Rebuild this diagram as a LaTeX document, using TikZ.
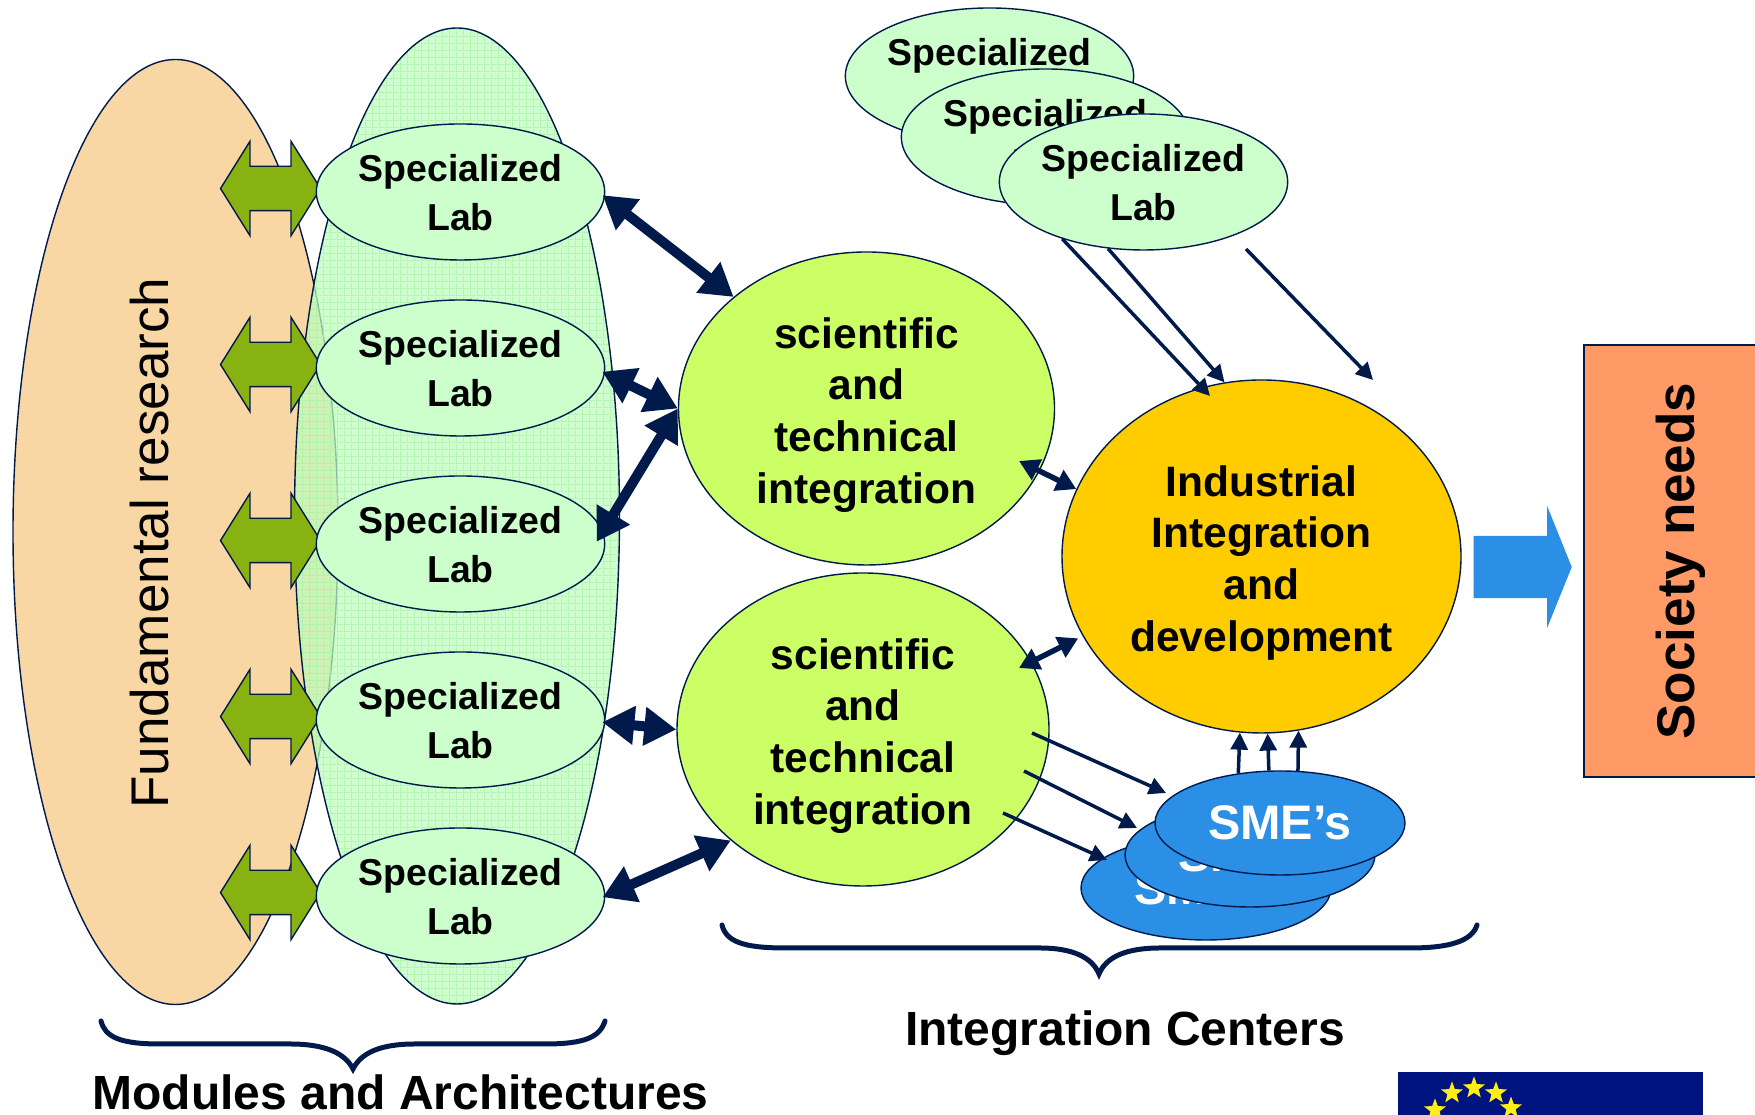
\documentclass[tikz,border=0pt]{standalone}
\usepackage{fontspec}
\setmainfont{Liberation Sans}
\usetikzlibrary{shapes.geometric,shapes.arrows,arrows.meta,patterns}
\definecolor{navyline}{RGB}{0,26,76}
\definecolor{outercol}{RGB}{248,215,165}
\definecolor{meshcol}{RGB}{165,240,165}
\definecolor{labcol}{RGB}{204,255,204}
\definecolor{scicol}{RGB}{204,255,102}
\definecolor{indcol}{RGB}{255,204,0}
\definecolor{smecol}{RGB}{42,143,229}
\definecolor{needcol}{RGB}{255,153,102}
\definecolor{swapcol}{RGB}{136,178,17}
\definecolor{flagcol}{RGB}{0,20,127}
\definecolor{starcol}{RGB}{255,238,20}
\pgfdeclarepatternformonly{finemesh}{\pgfpointorigin}{\pgfqpoint{2pt}{2pt}}{\pgfqpoint{2pt}{2pt}}{
	\pgfsetlinewidth{.35pt}
	\pgfpathmoveto{\pgfpointorigin}
	\pgfpathlineto{\pgfqpoint{2pt}{0pt}}
	\pgfpathmoveto{\pgfpointorigin}
	\pgfpathlineto{\pgfqpoint{0pt}{2pt}}
	\pgfusepath{stroke}
}
\newcommand{\labname}{\rule{0pt}{8pt}Specialized\\Lab}
\newcommand{\sciname}{\rule{0pt}{12.3pt}scientific\\and\\technical\\integration}
\tikzset{
	outline/.style={draw=navyline,line width=.4pt},
	labnode/.style={outline,ellipse,fill=labcol,minimum width=2.88cm,minimum height=1.36cm,inner sep=0pt,align=center,font=\fontsize{10.65}{13.9}\selectfont\bfseries},
	scinode/.style={outline,ellipse,fill=scicol,inner sep=0pt,align=center,font=\fontsize{12.1}{14.7}\selectfont\bfseries},
	smenode/.style={outline,ellipse,fill=smecol,minimum width=2.5cm,minimum height=1.04cm,inner sep=0pt,text=white,font=\fontsize{13.8}{16}\selectfont\bfseries},
	swaparrow/.style={outline,fill=swapcol,double arrow,minimum height=1cm,text height=.43cm,text depth=0pt,double arrow head extend=.25cm,double arrow tip angle=116,double arrow head indent=0pt,inner sep=0pt},
	stargold/.style={star,star points=5,star point ratio=2.4,fill=starcol,inner sep=0pt,minimum size=.23cm},
	heavylink/.style={navyline,line width=.1cm,shorten <=-.03cm,{Triangle[length=.32cm,width=.37cm]}-{Triangle[length=.32cm,width=.37cm]}},
	midlink/.style={navyline,line width=.055cm,{Triangle[length=.2cm,width=.22cm]}-{Triangle[length=.2cm,width=.22cm]}},
	thinlink/.style={navyline,line width=.035cm,-{Triangle[length=.17cm,width=.17cm]}},
	bracepath/.style={navyline,line width=.05cm,line cap=round},
	headtext/.style={font=\fontsize{13.65}{16}\selectfont\bfseries,inner sep=0pt}
}
\begin{document}
\begin{tikzpicture}
	\useasboundingbox (0,0) rectangle (17.55,11.15);
	\node[outline,ellipse,fill=outercol,minimum width=3.25cm,minimum height=9.45cm] (fund) at (1.755,5.83) {};
	\node[font=\fontsize{15.1}{18}\selectfont,rotate=90,inner sep=0pt] (fundtext) at (1.5,5.72) {Fundamental research};
	\node[outline,ellipse,preaction={fill=labcol!92!green,fill opacity=.72},preaction={pattern=finemesh,pattern color=meshcol},minimum width=3.25cm,minimum height=9.76cm] (arch) at (4.57,5.99) {};

	\node[swaparrow] (swap1) at (2.705,9.265) {};
	\node[swaparrow] (swap2) at (2.705,7.505) {};
	\node[swaparrow] (swap3) at (2.705,5.745) {};
	\node[swaparrow] (swap4) at (2.705,3.985) {};
	\node[swaparrow] (swap5) at (2.705,2.225) {};

	\node[labnode] (lab1) at (4.605,9.23) {\labname};
	\node[labnode] (lab2) at (4.605,7.47) {\labname};
	\node[labnode] (lab3) at (4.605,5.71) {\labname};
	\node[labnode] (lab4) at (4.605,3.95) {\labname};
	\node[labnode] (lab5) at (4.605,2.19) {\labname};

	\node[labnode] (lab6) at (9.895,10.39) {\labname};
	\node[labnode] (lab7) at (10.455,9.78) {\labname};
	\node[labnode] (lab8) at (11.435,9.33) {\labname};

	\node[scinode,minimum width=3.76cm,minimum height=3.13cm] (sci1) at (8.665,7.065) {\sciname};
	\node[scinode,minimum width=3.72cm,minimum height=3.13cm] (sci2) at (8.63,3.855) {\sciname};
	\node[scinode,fill=indcol,minimum width=3.99cm,minimum height=3.53cm] (ind) at (12.615,5.585) {\rule{0pt}{12.3pt}Industrial\\Integration\\and\\development};

	\node[smenode] (sme1) at (12.06,2.27) {SME’s};
	\node[smenode] (sme2) at (12.50,2.60) {SME’s};
	\node[smenode] (sme3) at (12.80,2.92) {SME’s};

	\node[single arrow,fill=smecol,draw=smecol,line width=.3pt,minimum height=.97cm,text height=.6cm,text depth=0pt,single arrow head extend=.28cm,single arrow tip angle=136,single arrow head indent=0pt,inner sep=0pt] (outflow) at (15.165,5.48) {};
	\node[outline,fill=needcol,rotate=90,minimum width=4.32cm,minimum height=1.93cm,inner sep=0pt,font=\fontsize{15.1}{18}\selectfont\bfseries] (needs) at (16.805,5.54) {Society needs};

	\draw[heavylink] (lab1.-2) -- (sci1.140);
	\draw[heavylink] (lab2.-2) -- (sci1.180);
	\draw[heavylink,shorten <=-.12cm] (lab3.5) -- (sci1.180);
	\draw[heavylink] (lab4.-1) -- (sci2.180);
	\draw[heavylink] (lab5.0) -- (sci2.220);

	\coordinate (inner1) at (10.19,6.54);
	\coordinate (inner2) at (10.19,4.47);
	\draw[midlink] (inner1) -- (ind.160);
	\draw[midlink,shorten >=.05cm] (inner2) -- (ind.204);

	\coordinate (labtip) at (12.10,7.19);
	\coordinate (freea) at (12.46,8.66);
	\coordinate (freeb) at (13.73,7.35);
	\draw[thinlink] (lab8.215) -- (labtip);
	\draw[thinlink] (lab8.242) -- (ind.102);
	\draw[thinlink] (freea) -- (freeb);

	\coordinate (scia) at (10.32,3.82);
	\coordinate (scib) at (10.24,3.44);
	\coordinate (scic) at (10.03,3.02);
	\coordinate (smea) at (11.66,3.22);
	\coordinate (smeb) at (11.37,2.87);
	\coordinate (smec) at (11.07,2.55);
	\draw[thinlink] (scia) -- (smea);
	\draw[thinlink] (scib) -- (smeb);
	\draw[thinlink] (scic) -- (smec);

	\draw[thinlink] (sme3.130) -- (ind.263);
	\draw[thinlink] (sme3.102) -- (ind.272);
	\draw[thinlink] (sme3.71) -- (ind.282);

	\draw[bracepath] (1.01,0.94) .. controls (1.05,0.78) and (1.2,0.71) .. (1.6,0.71) -- (2.9,0.71) .. controls (3.25,0.71) and (3.45,0.62) .. (3.53,0.46) .. controls (3.61,0.62) and (3.8,0.71) .. (4.15,0.71) -- (5.45,0.71) .. controls (5.85,0.71) and (6.0,0.78) .. (6.05,0.94);
	\draw[bracepath] (7.22,1.90) .. controls (7.26,1.74) and (7.42,1.67) .. (7.85,1.67) -- (10.4,1.67) .. controls (10.72,1.67) and (10.92,1.58) .. (10.99,1.41) .. controls (11.06,1.58) and (11.26,1.67) .. (11.6,1.67) -- (14.1,1.67) .. controls (14.5,1.67) and (14.72,1.74) .. (14.77,1.90);

	\node[headtext] (modules) at (4.006,0.23) {Modules and Architectures};
	\node[headtext] (centers) at (11.25,0.815) {Integration Centers};

	\fill[flagcol] (13.98,0) rectangle (17.03,0.43);
	\node[stargold] (star1) at (14.74,0.27) {};
	\node[stargold] (star2) at (14.52,0.22) {};
	\node[stargold] (star3) at (14.96,0.22) {};
	\node[stargold] (star4) at (14.35,0.05) {};
	\node[stargold] (star5) at (15.11,0.07) {};
\end{tikzpicture}
\end{document}
